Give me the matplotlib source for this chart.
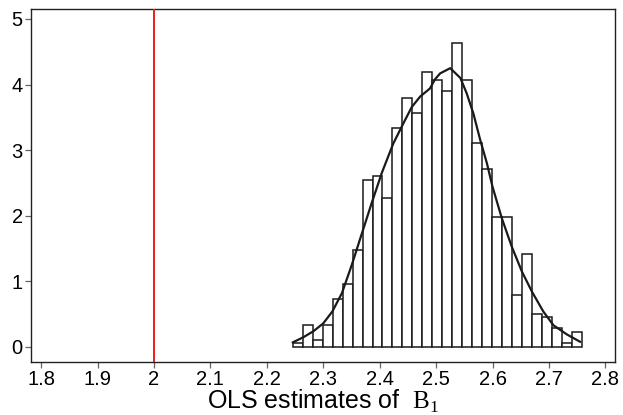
import matplotlib
matplotlib.use("Agg")
import matplotlib.pyplot as plt
import numpy as np

# simulated OLS slope estimates, 1000 replications, 29 equal bins
n_reps = 1000
bin_lo, bin_hi = 2.2459, 2.7583
counts = [1, 6, 2, 6, 13, 17, 26, 45, 46, 40, 59, 67, 63, 74, 72,
          69, 82, 72, 55, 48, 35, 35, 14, 25, 9, 8, 5, 1, 4]

# kernel density curve of the same estimates
kde_x = [2.246, 2.265, 2.2825, 2.300, 2.316, 2.333, 2.3505, 2.368, 2.386,
         2.404, 2.424, 2.442, 2.457, 2.472, 2.489, 2.498, 2.507, 2.525,
         2.543, 2.554, 2.566, 2.578, 2.590, 2.600, 2.6165, 2.634, 2.652,
         2.670, 2.690, 2.708, 2.732, 2.755]
kde_y = [0.07, 0.15, 0.24, 0.36, 0.54, 0.82, 1.25, 1.72, 2.20, 2.66, 3.10,
         3.41, 3.66, 3.82, 3.94, 4.08, 4.17, 4.25, 4.10, 3.87, 3.56, 3.16,
         2.80, 2.44, 1.96, 1.53, 1.15, 0.84, 0.54, 0.33, 0.19, 0.08]

true_b1 = 2.0
xticks = [1.8, 1.9, 2.0, 2.1, 2.2, 2.3, 2.4, 2.5, 2.6, 2.7, 2.8]
xticklabels = ["1.8", "1.9", "2", "2.1", "2.2", "2.3", "2.4", "2.5", "2.6", "2.7", "2.8"]
yticks = [0, 1, 2, 3, 4, 5]

plt.rcParams["font.family"] = ["Liberation Sans", "DejaVu Sans"]
plt.rcParams["mathtext.fontset"] = "custom"
plt.rcParams["mathtext.rm"] = "Liberation Serif"

fig = plt.figure(figsize=(6.23, 4.15), dpi=100)
ax = fig.add_axes([31 / 623, 1 - 362 / 415, 584 / 623, 353 / 415])

edges = np.linspace(bin_lo, bin_hi, len(counts) + 1)
width = edges[1] - edges[0]
density = np.array(counts) / (n_reps * width)
ax.bar(edges[:-1], density, width=width, align="edge",
       facecolor="white", edgecolor="#1a1a1a", linewidth=1.1, zorder=2)

ax.plot(kde_x, kde_y, color="#1a1a1a", linewidth=1.6, zorder=3)
ax.axvline(true_b1, color="#ee1c1c", linewidth=1.4, zorder=4)

ax.set_xlim(1.782, 2.817)
ax.set_ylim(-0.229, 5.152)
ax.set_xticks(xticks)
ax.set_xticklabels(xticklabels)
ax.set_yticks(yticks)
ax.tick_params(axis="both", direction="out", length=4, width=0.9,
               color="#666666", labelsize=14.5, pad=2)
for sp in ax.spines.values():
    sp.set_linewidth(1.0)
    sp.set_color("#222222")

ax.set_xlabel(r"OLS estimates of  $\mathrm{B}_{\mathrm{1}}$", fontsize=18, labelpad=-1)

fig.savefig("out.png", dpi=100)
